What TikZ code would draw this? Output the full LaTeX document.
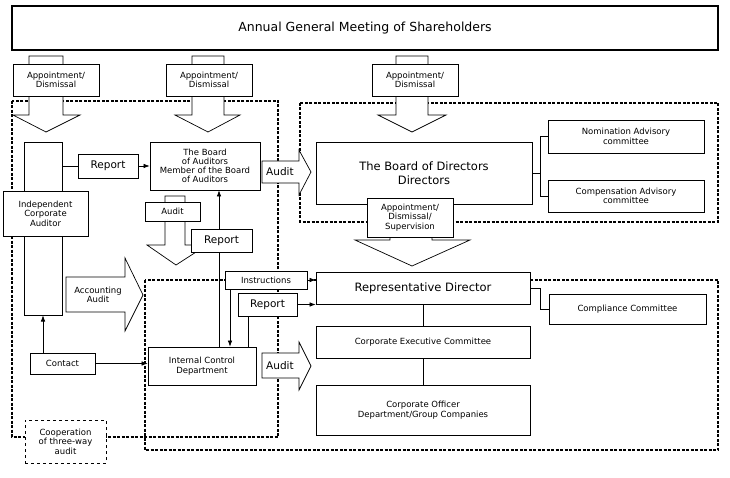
\documentclass[tikz,border=0pt]{standalone}
\usepackage{fontspec}
\setmainfont{DejaVu Sans}
\usetikzlibrary{arrows.meta,positioning}

\begin{document}
\begin{tikzpicture}[
        x=1pt, y=-1pt,
        line width=0.7pt,
        font=\fontsize{8.5}{9.5}\selectfont,
        box/.style={draw, fill=white, align=center, inner sep=1pt},
        bigbox/.style={draw, fill=white, align=center, font=\fontsize{10}{12}\selectfont},
        zone/.style={draw, line width=1.3pt, dash pattern=on 3pt off 1.5pt},
        barrow/.style={draw, fill=white},
        line/.style={-Latex},
        tag/.style={draw, fill=white, align=center, inner sep=1pt, font=\fontsize{10.5}{12}\selectfont}
    ]
    \useasboundingbox (0,0) rectangle (730,478);

    % ZONES
    \draw[zone] (12,101) rectangle (278,437);
    \draw[zone] (300,103) rectangle (718,222);
    \draw[zone] (145,280) rectangle (718,450);

    % TITLE
    \node[draw, line width=1.2pt, minimum width=706pt, minimum height=44pt, font=\fontsize{12.5}{14}\selectfont] (agm) at (365,28) {Annual General Meeting of Shareholders};

    % APPOINTMENT ARROWS
    \draw[barrow] (29,56) -- (63,56) -- (63,115) -- (80,115) -- (46,132) -- (13,115) -- (29,115) -- cycle;
    \draw[barrow] (192,56) -- (224,56) -- (224,115) -- (240,115) -- (208,132) -- (175,115) -- (192,115) -- cycle;
    \draw[barrow] (396,56) -- (428,56) -- (428,115) -- (446,115) -- (412,132) -- (378,115) -- (396,115) -- cycle;
    \node[box, minimum width=86pt, minimum height=32pt] (app1) at (56,80) {Appointment/\\Dismissal};
    \node[box, minimum width=86pt, minimum height=32pt] (app2) at (209,80) {Appointment/\\Dismissal};
    \node[box, minimum width=86pt, minimum height=32pt] (app3) at (415,80) {Appointment/\\Dismissal};

    % AUDITORS
    \node[draw, minimum width=38pt, minimum height=173pt] (ica) at (43,228.5) {};
    \node[box, minimum width=85pt, minimum height=45pt] (icalabel) at (45.5,213.5) {Independent\\Corporate\\Auditor};
    \node[bigbox, minimum width=110pt, minimum height=48pt, font=\fontsize{8.5}{9}\selectfont] (boa) at (205,166) {The Board\\of Auditors\\Member of the Board\\of Auditors};
    \node[tag, minimum width=60pt, minimum height=24pt] (rep1) at (108,166) {Report};
    \draw (ica.east |- rep1) -- (rep1);
    \draw[line] (rep1) -- (boa.west |- rep1);

    % BOARD OF DIRECTORS
    \node[bigbox, minimum width=216pt, minimum height=62pt, font=\fontsize{11.5}{13.5}\selectfont] (bod) at (424,173) {The Board of Directors\\Directors};
    \node[box, minimum width=156pt, minimum height=33pt] (nom) at (626,136.5) {Nomination Advisory\\committee};
    \node[box, minimum width=156pt, minimum height=32pt] (comp) at (626,196) {Compensation Advisory\\committee};
    \draw (bod.east) -- (540,173) coordinate (brk);
    \draw (nom.west) -- (540,136.5) -- (540,196) -- (comp.west);

    % AUDIT ARROWS
    \draw[barrow] (262,161) -- (299,161) -- (299,150) -- (311,172) -- (299,195) -- (299,183) -- (262,183) -- cycle;
    \node[font=\fontsize{10.5}{12}\selectfont] (aud1) at (280,172) {Audit};
    \draw[barrow] (165,196) -- (185,196) -- (185,245) -- (207,245) -- (176,265) -- (147,245) -- (165,245) -- cycle;
    \node[box, minimum width=55pt, minimum height=19pt] (aud2) at (172.5,211.5) {Audit};
    \draw[barrow] (66,277) -- (125,277) -- (125,258) -- (143,295) -- (125,331) -- (125,312) -- (66,312) -- cycle;
    \node[align=center] (accaud) at (98,295) {Accounting\\Audit};
    \draw[barrow] (262,353) -- (299,353) -- (299,342) -- (311,366) -- (299,390) -- (299,378) -- (262,378) -- cycle;
    \node[font=\fontsize{10.5}{12}\selectfont] (aud3) at (280,366) {Audit};

    % SUPERVISION ARROW
    \draw[barrow] (390,232) -- (432,232) -- (432,240) -- (470,240) -- (412,266) -- (355,240) -- (390,240) -- cycle;
    \node[box, minimum width=86pt, minimum height=39pt] (sup) at (410,217.5) {Appointment/\\Dismissal/\\Supervision};

    % EXECUTION
    \node[bigbox, minimum width=214pt, minimum height=32pt, font=\fontsize{11.5}{13.5}\selectfont] (rd) at (423,288) {Representative Director};
    \node[box, minimum width=157pt, minimum height=30pt] (cc) at (627.5,309) {Compliance Committee};
    \node[box, minimum width=214pt, minimum height=32pt] (cec) at (423,342) {Corporate Executive Committee};
    \node[box, minimum width=214pt, minimum height=50pt] (cod) at (423,410) {Corporate Officer\\Department/Group Companies};
    \draw (rd.east) -- (540,288) -- (540,309) -- (cc.west);
    \draw (rd) -- (cec);
    \draw (cec) -- (cod);

    % INTERNAL CONTROL
    \node[box, minimum width=108pt, minimum height=38pt] (icd) at (202,366) {Internal Control\\Department};
    \node[box, minimum width=82pt, minimum height=18pt] (instr) at (266,280) {Instructions};
    \node[tag, minimum width=59pt, minimum height=23pt] (rep3) at (267.5,304.5) {Report};
    \draw[line] (instr) -- (rd.west |- instr);
    \draw[line] (instr.south -| 230,0) -- (icd.north -| 230,0);
    \draw (icd.north -| 248,0) -- (rep3.south -| 248,0);
    \draw[line] (rep3) -- (rd.west |- rep3);
    \draw[line] (icd.north -| 219,0) -- (boa.south -| 219,0);
    \node[tag, minimum width=61pt, minimum height=23pt] (rep2) at (221.5,240.5) {Report};

    % CONTACT
    \node[box, minimum width=65pt, minimum height=21pt] (contact) at (62.5,363.5) {Contact};
    \draw[line] (contact.north -| ica) -- (ica.south);
    \draw[line] (contact.east) -- (icd.west |- contact.east);
    \node[box, dashed, minimum width=81pt, minimum height=43pt] (coop) at (65.5,441.5) {Cooperation\\of three-way\\audit};
\end{tikzpicture}
\end{document}
